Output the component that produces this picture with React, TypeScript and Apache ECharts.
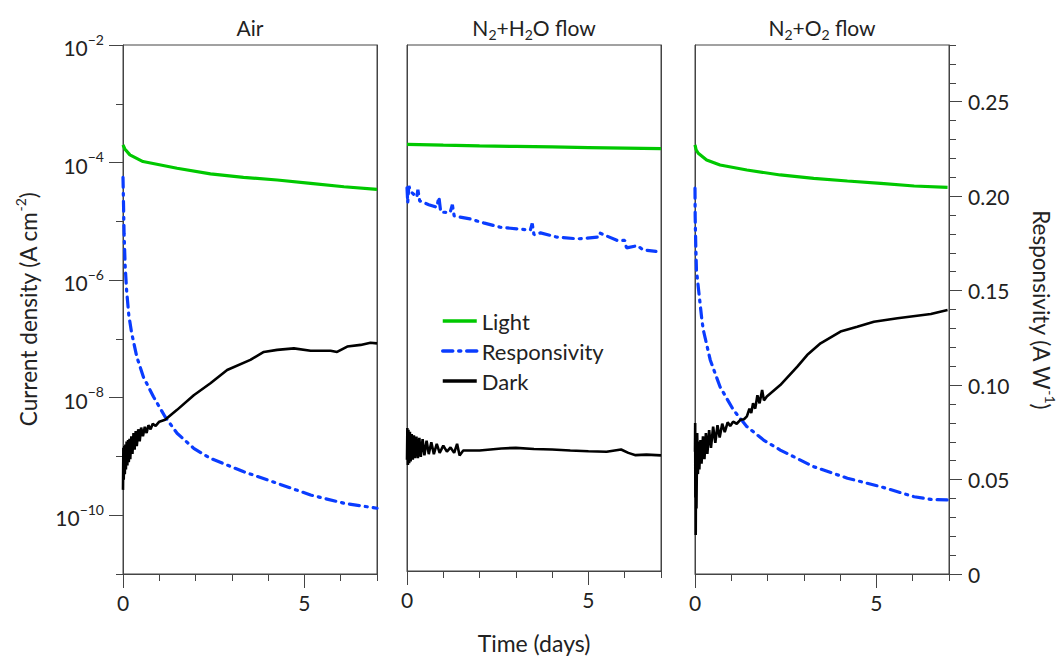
import React, { useEffect, useRef } from "react";
import * as echarts from "echarts";

// ---------- data (time in days, current density in A cm^-2, responsivity in A W^-1) ----------
const PANEL_TITLES = ["{a|Air}", "{a|N}{s|2}{a|+H}{s|2}{a|O flow}", "{a|N}{s|2}{a|+O}{s|2}{a| flow}"];

const X_LABEL_DAYS = [0, 5];
const EXP_LABELS = [-10, -8, -6, -4, -2];
const RESP_LABELS = [0, 0.05, 0.1, 0.15, 0.2, 0.25];

const airLight: number[][] = [
  [0, 2.0e-4], [0.05, 1.7e-4], [0.19, 1.35e-4], [0.55, 1.04e-4], [1.49, 8.0e-5], [2.41, 6.4e-5],
  [3.32, 5.6e-5], [4.25, 5.05e-5], [5.17, 4.43e-5], [6.09, 3.88e-5], [7.0, 3.5e-5],
];
const airResp: number[][] = [
  [0, 0.21], [0.01, 0.2], [0.03, 0.18], [0.06, 0.163], [0.1, 0.15], [0.16, 0.137], [0.24, 0.1274],
  [0.38, 0.115], [0.56, 0.1044], [0.84, 0.0938], [1.16, 0.0832], [1.49, 0.0745], [1.95, 0.0665],
  [2.41, 0.0612], [3.33, 0.0541], [4.25, 0.048], [5.17, 0.0418], [6.1, 0.0374], [7.0, 0.0348],
];
const airDark: number[][] = [
  [0, 2.7e-10], [0.01, 1.4e-9], [0.02, 4e-10], [0.035, 1.5e-9], [0.05, 5e-10], [0.065, 1.6e-9],
  [0.08, 6e-10], [0.1, 1.8e-9], [0.12, 7e-10], [0.14, 1.9e-9], [0.16, 8e-10], [0.18, 2e-9],
  [0.2, 9e-10], [0.23, 2.2e-9], [0.26, 1.1e-9], [0.29, 2.5e-9], [0.32, 1.3e-9], [0.35, 2.7e-9],
  [0.38, 1.5e-9], [0.42, 2.9e-9], [0.46, 1.8e-9], [0.5, 3.1e-9], [0.55, 2.2e-9], [0.6, 3.2e-9],
  [0.65, 2.5e-9], [0.7, 3.4e-9], [0.76, 2.9e-9], [0.82, 3.6e-9], [0.9, 3.3e-9], [1.0, 3.9e-9],
  [1.16, 4.2e-9], [1.49, 6.2e-9], [1.95, 1.1e-8], [2.41, 1.76e-8], [2.87, 2.96e-8], [3.51, 4.4e-8],
  [3.88, 6.0e-8], [4.25, 6.5e-8], [4.71, 6.9e-8], [5.17, 6.3e-8], [5.72, 6.3e-8], [5.9, 6.0e-8],
  [6.18, 7.4e-8], [6.55, 7.9e-8], [6.82, 8.6e-8], [7.0, 8.4e-8],
];

const h2oLight: number[][] = [
  [0, 1.99e-4], [1, 1.93e-4], [2, 1.88e-4], [3, 1.84e-4], [4, 1.8e-4], [5, 1.76e-4], [6, 1.72e-4], [7, 1.68e-4],
];
const h2oResp: number[][] = [
  [0, 0.204], [0.02, 0.196], [0.05, 0.205], [0.1, 0.202], [0.27, 0.199], [0.3, 0.203], [0.35, 0.197],
  [0.6, 0.195], [0.82, 0.1936], [0.88, 0.199], [0.93, 0.191], [1.19, 0.1909], [1.25, 0.195], [1.3, 0.189],
  [1.74, 0.1874], [2.11, 0.1853], [2.57, 0.183], [3.04, 0.1821], [3.4, 0.1815], [3.45, 0.185], [3.5, 0.179],
  [3.68, 0.18], [4.14, 0.1777], [4.7, 0.1768], [5.25, 0.1777], [5.3, 0.18], [5.8, 0.1759], [6.0, 0.176],
  [6.05, 0.172], [6.35, 0.1732], [6.5, 0.171], [6.86, 0.1701],
];
const h2oDark: number[][] = [
  [0, 8e-10], [0.01, 2.8e-9], [0.025, 6.5e-10], [0.04, 2.6e-9], [0.06, 7e-10], [0.08, 2.4e-9],
  [0.1, 7.5e-10], [0.13, 2.2e-9], [0.16, 8e-10], [0.19, 2.1e-9], [0.22, 8.5e-10], [0.26, 2e-9],
  [0.3, 8.5e-10], [0.34, 1.9e-9], [0.38, 9e-10], [0.43, 1.8e-9], [0.48, 9.5e-10], [0.54, 1.7e-9],
  [0.6, 1e-9], [0.67, 1.6e-9], [0.74, 1e-9], [0.82, 1.5e-9], [0.9, 1.05e-9], [1.0, 1.4e-9],
  [1.1, 1.1e-9], [1.2, 1.3e-9], [1.3, 1.05e-9], [1.38, 1.5e-9], [1.45, 9.5e-10], [1.55, 1.15e-9],
  [2.0, 1.15e-9], [2.6, 1.25e-9], [3.0, 1.28e-9], [3.5, 1.22e-9], [4.0, 1.2e-9], [4.5, 1.15e-9],
  [5.0, 1.12e-9], [5.5, 1.1e-9], [5.9, 1.2e-9], [6.1, 1.05e-9], [6.3, 9.6e-10], [6.6, 9.8e-10], [7.0, 9.5e-10],
];

const o2Light: number[][] = [
  [0, 2.0e-4], [0.03, 1.65e-4], [0.09, 1.44e-4], [0.32, 1.11e-4], [0.69, 9.1e-5], [1.43, 7.47e-5],
  [2.35, 6.15e-5], [3.27, 5.4e-5], [4.2, 4.86e-5], [5.12, 4.43e-5], [6.04, 3.99e-5], [6.96, 3.79e-5],
];
const o2Resp: number[][] = [
  [0, 0.2042], [0.005, 0.1891], [0.02, 0.175], [0.04, 0.1609], [0.12, 0.1467], [0.19, 0.1344],
  [0.23, 0.1291], [0.42, 0.1133], [0.69, 0.0991], [1.06, 0.0868], [1.43, 0.078], [1.89, 0.0709],
  [2.35, 0.0656], [3.27, 0.0568], [4.2, 0.0507], [5.12, 0.0462], [6.04, 0.0409], [6.5, 0.0395], [6.96, 0.0392],
];
const o2Dark: number[][] = [
  [0, 1.2e-9], [0.005, 3.7e-9], [0.01, 2e-10], [0.015, 1.7e-9], [0.02, 4.6e-11], [0.03, 1.5e-9],
  [0.04, 1.3e-10], [0.06, 2.5e-9], [0.08, 5e-10], [0.1, 1.8e-9], [0.12, 6e-10], [0.15, 1.9e-9],
  [0.18, 7.5e-10], [0.22, 2.2e-9], [0.26, 9e-10], [0.3, 2.5e-9], [0.34, 1.1e-9], [0.39, 2.8e-9],
  [0.44, 1.4e-9], [0.5, 3.2e-9], [0.56, 1.7e-9], [0.62, 3.4e-9], [0.68, 2.1e-9], [0.75, 3.6e-9],
  [0.82, 2.6e-9], [0.9, 3.8e-9], [0.97, 3.3e-9], [1.05, 3.9e-9], [1.15, 3.6e-9], [1.25, 4.2e-9],
  [1.35, 4.3e-9], [1.43, 4.8e-9], [1.5, 6.5e-9], [1.55, 5.5e-9], [1.6, 8e-9], [1.66, 6.5e-9],
  [1.72, 1.1e-8], [1.78, 8e-9], [1.85, 1.35e-8], [1.9, 9e-9], [1.98, 1.05e-8], [2.35, 1.64e-8],
  [2.82, 3.37e-8], [3.09, 5.3e-8], [3.46, 8.4e-8], [4.01, 1.33e-7], [4.47, 1.61e-7], [4.93, 1.96e-7],
  [5.58, 2.24e-7], [6.5, 2.65e-7], [6.96, 3.1e-7],
];

const LIGHT = [airLight, h2oLight, o2Light];
const RESP = [airResp, h2oResp, o2Resp];
const DARK = [airDark, h2oDark, o2Dark];

// ---------- layout / style ----------
const FONT = 'Lato, "Open Sans", sans-serif';
const TEXT = "#222";
const AXIS = "#444";
const PANEL_LEFT = [123, 407, 695];
const PANEL_W = 254;
const TOP = 45;
const HEIGHT = 529;

const tickRich = {
  b: { fontSize: 21, fontFamily: FONT, color: TEXT, verticalAlign: "bottom", lineHeight: 26 },
  s: { fontSize: 14, fontFamily: FONT, color: TEXT, verticalAlign: "top", lineHeight: 14 },
};
const nameRich = {
  b: { fontSize: 22.5, fontFamily: FONT, color: TEXT, verticalAlign: "bottom", lineHeight: 27 },
  s: { fontSize: 14, fontFamily: FONT, color: TEXT, verticalAlign: "top", lineHeight: 14 },
};

export default function App() {
  const ref = useRef<HTMLDivElement>(null);
  useEffect(() => {
    if (!ref.current) return;
    const chart = echarts.init(ref.current, null, { renderer: "svg" });
    const axisLine = { show: true, lineStyle: { color: AXIS, width: 1 } };
    const tickLine = { color: AXIS, width: 1 };

    const grids = PANEL_LEFT.map((l) => ({
      left: l, top: TOP, width: PANEL_W, height: HEIGHT,
      show: true, borderColor: AXIS, borderWidth: 1, backgroundColor: "transparent",
    }));

    const xAxes: any[] = [];
    const yAxes: any[] = [];
    const series: any[] = [];
    for (let i = 0; i < 3; i++) {
      xAxes.push({
        type: "value", gridIndex: i, min: 0, max: 7, interval: 1, position: "bottom",
        axisLine, axisTick: { show: true, length: 7, lineStyle: tickLine },
        axisLabel: { show: false }, splitLine: { show: false },
      });
      xAxes.push({
        type: "value", gridIndex: i, min: 0, max: 7, position: "bottom",
        axisLine: { show: false },
        axisTick: { show: true, customValues: X_LABEL_DAYS, length: 14, lineStyle: tickLine },
        axisLabel: { show: true, customValues: X_LABEL_DAYS, fontSize: 21, fontFamily: FONT, color: TEXT, margin: 18 },
        splitLine: { show: false },
        name: i === 1 ? "Time (days)" : "",
        nameLocation: "middle", nameGap: 60,
        nameTextStyle: { fontSize: 23, fontFamily: FONT, color: TEXT },
      });
      yAxes.push({
        type: "log", logBase: 10, min: 1e-11, max: 1e-2, gridIndex: i, position: "left",
        axisLine, axisTick: { show: false }, axisLabel: { show: false }, splitLine: { show: false },
      });
      yAxes.push({
        type: "value", min: -11, max: -2, interval: 1, gridIndex: i, position: "left", show: i === 0,
        axisLine: { show: false }, axisTick: { show: true, length: 7, lineStyle: tickLine },
        axisLabel: { show: false }, splitLine: { show: false },
      });
      yAxes.push({
        type: "value", min: -11, max: -2, gridIndex: i, position: "left", show: i === 0,
        axisLine: { show: false },
        axisTick: { show: true, customValues: EXP_LABELS, length: 14, lineStyle: tickLine },
        axisLabel: {
          show: true, customValues: EXP_LABELS, margin: 19,
          formatter: (v: number) => `{b|10}{s|\u2212${Math.round(-v)}}`,
          rich: tickRich,
        },
        splitLine: { show: false },
        name: "{b|Current density (A cm}{s|-2}{b|)}",
        nameLocation: "middle", nameGap: 83, nameRotate: 90,
        nameTextStyle: { rich: nameRich },
      });
      yAxes.push({
        type: "value", min: 0, max: 0.28, interval: 0.01, gridIndex: i, position: "right",
        axisLine, axisTick: { show: i === 2, length: 7, lineStyle: tickLine },
        axisLabel: { show: false }, splitLine: { show: false },
      });
      yAxes.push({
        type: "value", min: 0, max: 0.28, gridIndex: i, position: "right", show: i === 2,
        axisLine: { show: false },
        axisTick: { show: true, customValues: RESP_LABELS, length: 13, lineStyle: tickLine },
        axisLabel: {
          show: true, customValues: RESP_LABELS, margin: 19, fontSize: 21, fontFamily: FONT, color: TEXT,
          formatter: (v: number) => (v === 0 ? "0" : v.toFixed(2)),
        },
        splitLine: { show: false },
        name: "{b|Responsivity (A W}{s|-1}{b|)}",
        nameLocation: "middle", nameGap: 81, nameRotate: -90,
        nameTextStyle: { rich: nameRich },
      });

      series.push({
        name: "Light", type: "line", xAxisIndex: 2 * i, yAxisIndex: 5 * i, data: LIGHT[i],
        symbol: "none", showSymbol: false,
        lineStyle: { color: "#00c800", width: 3.2 }, itemStyle: { color: "#00c800" }, z: 3,
      });
      series.push({
        name: "Responsivity", type: "line", xAxisIndex: 2 * i, yAxisIndex: 5 * i + 3, data: RESP[i],
        symbol: "none", showSymbol: false,
        lineStyle: { color: "#0a3cff", width: 3.2, type: [10, 6, 2, 6], cap: "round" },
        itemStyle: { color: "#0a3cff" }, z: 3,
      });
      series.push({
        name: "Dark", type: "line", xAxisIndex: 2 * i, yAxisIndex: 5 * i, data: DARK[i],
        symbol: "none", showSymbol: false,
        lineStyle: { color: "#000", width: 2.6 }, itemStyle: { color: "#000" }, z: 3,
      });
    }

    const titleRich = {
      a: { fontSize: 21, fontFamily: FONT, fill: TEXT, verticalAlign: "top", lineHeight: 24 },
      s: { fontSize: 14, fontFamily: FONT, fill: TEXT, verticalAlign: "bottom", lineHeight: 14 },
    };

    chart.setOption({
      animation: false,
      backgroundColor: "#fff",
      grid: grids,
      xAxis: xAxes,
      yAxis: yAxes,
      series,
      legend: {
        data: ["Light", "Responsivity", "Dark"],
        orient: "vertical", left: 436, top: 305,
        itemWidth: 34, itemHeight: 14, itemGap: 8,
        itemStyle: { opacity: 0 },
        lineStyle: { width: 3.5 },
        textStyle: { fontSize: 22, fontFamily: FONT, color: TEXT, lineHeight: 22 },
      },
      graphic: PANEL_LEFT.map((l, i) => ({
        type: "text", x: l + PANEL_W / 2, y: 29,
        style: {
          text: PANEL_TITLES[i], rich: titleRich,
          align: "center", verticalAlign: "middle", textAlign: "center", textVerticalAlign: "middle",
        },
      })),
    });
    return () => chart.dispose();
  }, []);
  return (
    <div
      ref={ref}
      style={{ position: "absolute", left: 0, top: 0, width: 1062, height: 659 }}
    />
  );
}
